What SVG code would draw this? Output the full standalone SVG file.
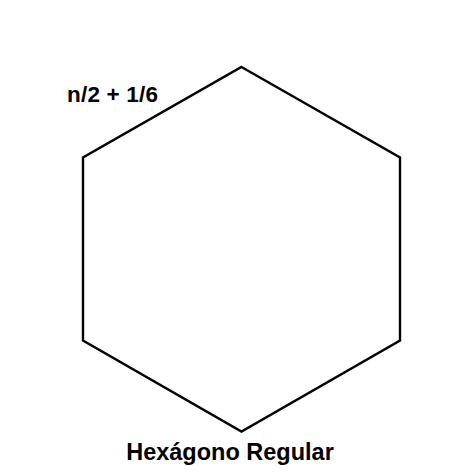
<svg xmlns="http://www.w3.org/2000/svg" width="456" height="475" viewBox="0 0 456 475">
<style>
.lbl{font-family:"Liberation Sans",Arial,sans-serif;font-weight:bold;fill:#000}
.shape{fill:none;stroke:#000;stroke-width:2.4;stroke-linejoin:miter}
</style>
<rect width="456" height="475" fill="#fff"/>
<g id="hexagon">
<polygon class="shape" points="241.5,67 400,157.5 400,340.5 241.5,431.5 83,340.5 83,157.5"/>
</g>
<g id="connectors"/>
<g id="label-formula">
<text class="lbl" x="67" y="102" font-size="22.5" textLength="91" lengthAdjust="spacing">n/2 + 1/6</text>
</g>
<g id="label-title">
<text class="lbl" x="230" y="460" font-size="23.5" text-anchor="middle">Hexágono Regular</text>
</g>
</svg>
